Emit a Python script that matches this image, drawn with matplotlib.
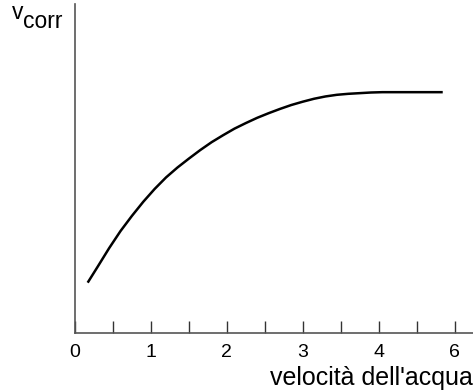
import numpy as np
import matplotlib
matplotlib.use("Agg")
import matplotlib.pyplot as plt

plt.rcParams['font.family'] = ['Liberation Sans', 'DejaVu Sans']

# curve
vel = [0.167, 0.30, 0.45, 0.60, 0.75, 0.90, 1.05, 1.20, 1.35, 1.50,
       1.65, 1.80, 1.95, 2.10, 2.25, 2.40, 2.55, 2.70, 2.85, 3.00,
       3.15, 3.30, 3.45, 3.60, 3.75, 3.90, 4.05, 4.45, 4.845]
vcorr = [1.53, 2.02, 2.58, 3.10, 3.56, 3.99, 4.38, 4.73, 5.03, 5.30,
         5.56, 5.80, 6.01, 6.21, 6.38, 6.54, 6.68, 6.81, 6.93, 7.03,
         7.12, 7.19, 7.24, 7.27, 7.29, 7.31, 7.32, 7.32, 7.32]

tick_pos = [0, 1, 2, 3, 4, 5]
tick_lab = ['0', '1', '2', '3', '4', '6']

W, H = 473, 391
fig = plt.figure(figsize=(W / 100, H / 100), dpi=100)

x0, y0, ytop = 75, 333, 4
xmax = 5.3
ppu = 75.9
ax = fig.add_axes([x0 / W, (H - y0) / H, xmax * ppu / W, (y0 - ytop) / H])
ax.plot(vel, vcorr, color='black', lw=1.8, solid_capstyle='butt',
        solid_joinstyle='round')
ax.set_xlim(0, xmax)
ax.set_ylim(0, 10)

for s in ['top', 'right']:
    ax.spines[s].set_visible(False)
for s in ['left', 'bottom']:
    ax.spines[s].set_color('#555555')
    ax.spines[s].set_linewidth(1.2)

ax.set_xticks(tick_pos)
ax.set_xticklabels(tick_lab)
ax.set_xticks(np.arange(0.5, xmax, 1.0), minor=True)
ax.tick_params(axis='x', which='both', direction='in', length=8.5, width=1,
               color='#333333', pad=8, labelsize=14)
ax.set_yticks([])

fig.text(270 / W, (H - 385) / H, "velocità dell'acqua", fontsize=18,
         va='baseline', ha='left')
fig.text(12 / W, (H - 19) / H, "v", fontsize=16.5, va='baseline', ha='left')
fig.text(23 / W, (H - 28) / H, "corr", fontsize=16.5, va='baseline', ha='left')

fig.savefig('out.png', dpi=100)
